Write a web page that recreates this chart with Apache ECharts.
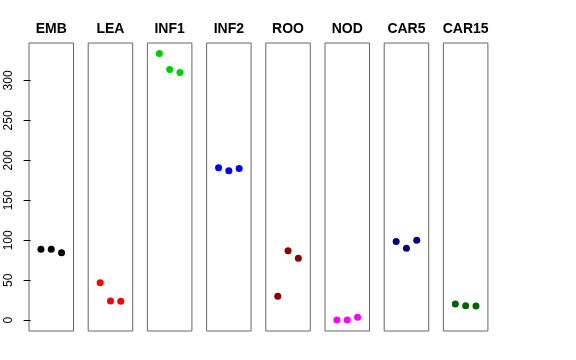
<!DOCTYPE html>
<html>
<head>
<meta charset="utf-8">
<script src="https://cdn.jsdelivr.net/npm/echarts@6/dist/echarts.min.js"></script>
<style>html,body{margin:0;padding:0;background:#fff}#c{width:576px;height:360px}</style>
</head>
<body>
<div id="c"></div>
<script>
// Data
var categories = ["EMB", "LEA", "INF1", "INF2", "ROO", "NOD", "CAR5", "CAR15"];
var colors = ["#000000", "#FF0000", "#00CD00", "#0000FF", "#8B0000", "#FF00FF", "#000080", "#006400"];
var replicates = [1, 2, 3];
var EMB = [88.9, 88.9, 84.6];
var LEA = [47.1, 24.2, 23.8];
var INF1 = [333.8, 313.8, 310.0];
var INF2 = [190.7, 186.9, 189.8];
var ROO = [30.0, 87.1, 77.6];
var NOD = [0.4, 0.4, 3.7];
var CAR5 = [98.4, 90.1, 100.2];
var CAR15 = [20.4, 18.3, 17.9];
var seriesValues = [EMB, LEA, INF1, INF2, ROO, NOD, CAR5, CAR15];
var yTicks = [0, 50, 100, 150, 200, 250, 300];

var yMin = -13.4, yMax = 346.8;
var xMin = -0.16, xMax = 4.16;
var font = "'Liberation Sans', Arial, Helvetica, sans-serif";

var grids = [], xAxes = [], yAxes = [], series = [];
categories.forEach(function (cat, i) {
  grids.push({
    left: 29 + i * 59.2, top: 43, width: 44.5, height: 288,
    show: true, borderColor: '#666', borderWidth: 1, backgroundColor: 'transparent'
  });
  xAxes.push({
    type: 'value', gridIndex: i, min: xMin, max: xMax, position: 'top',
    name: cat, nameLocation: 'middle', nameGap: 7,
    nameTextStyle: { fontFamily: font, fontWeight: 'bold', fontSize: 14, color: '#000' },
    axisLine: { show: false }, axisTick: { show: false }, axisLabel: { show: false },
    splitLine: { show: false }
  });
  var y = {
    type: 'value', gridIndex: i, min: yMin, max: yMax,
    splitLine: { show: false }, axisLine: { show: false }
  };
  if (i === 0) {
    y.axisTick = { show: true, customValues: yTicks, length: 7, lineStyle: { color: '#000' } };
    y.axisLabel = { show: true, customValues: yTicks, rotate: 90, margin: 14,
      fontFamily: font, fontSize: 12, color: '#000' };
  } else {
    y.axisTick = { show: false };
    y.axisLabel = { show: false };
  }
  yAxes.push(y);
  series.push({
    type: 'scatter', xAxisIndex: i, yAxisIndex: i,
    data: replicates.map(function (r, j) { return [r, seriesValues[i][j]]; }),
    symbol: 'circle', symbolSize: 7,
    itemStyle: { color: colors[i], opacity: 1 },
    emphasis: { disabled: true }, silent: true
  });
});

var chart = echarts.init(document.getElementById('c'), null, { renderer: 'canvas' });
chart.setOption({
  animation: false,
  backgroundColor: '#fff',
  grid: grids, xAxis: xAxes, yAxis: yAxes, series: series
});
</script>
</body>
</html>
